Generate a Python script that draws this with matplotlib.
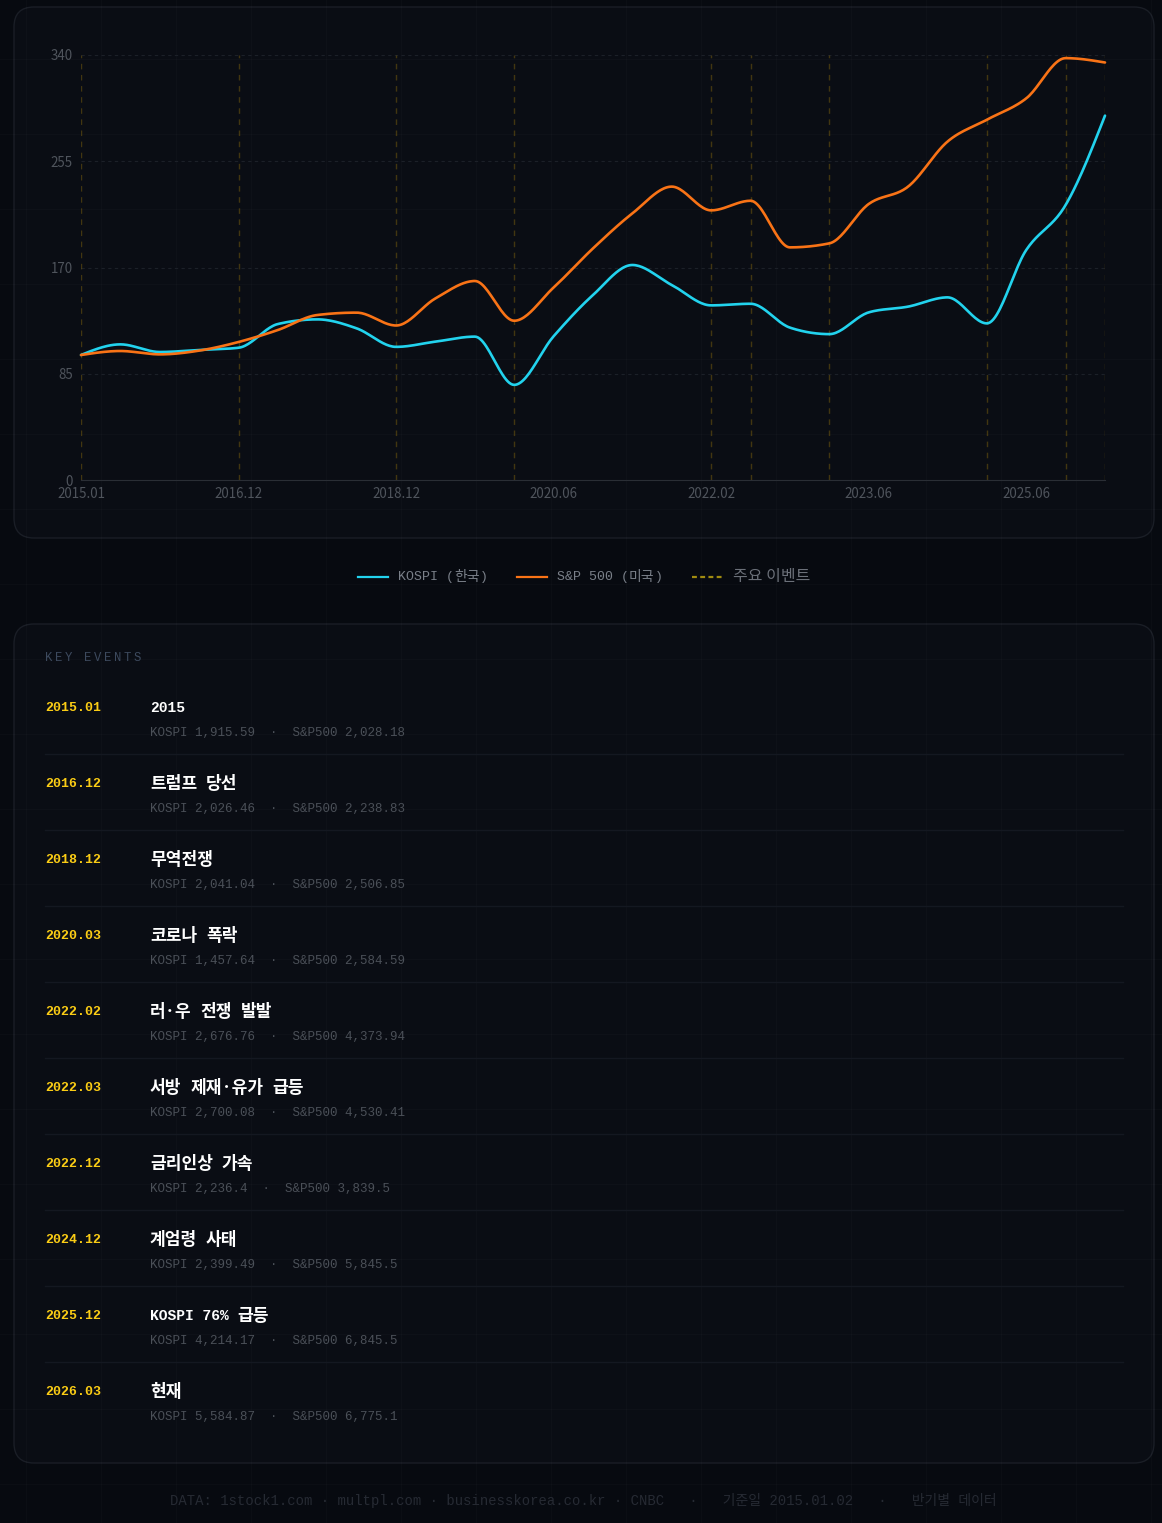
import matplotlib.pyplot as plt
import numpy as np
from matplotlib.patches import FancyBboxPatch

W, H = 1162, 1523

labels = ["2015.01", "2015.06", "2015.12", "2016.06", "2016.12", "2017.06", "2017.12",
          "2018.06", "2018.12", "2019.06", "2019.12", "2020.03", "2020.06", "2020.12",
          "2021.06", "2021.12", "2022.02", "2022.03", "2022.06", "2022.12", "2023.06",
          "2023.12", "2024.06", "2024.12", "2025.06", "2025.12", "2026.03"]
# index, 2015.01 = 100
kospi = [100, 108.5, 102.4, 104, 105.8, 124.8, 128.5, 121.3, 106.5, 110.7, 114.7, 76.1,
         115, 148, 172, 156, 139.7, 141.0, 121.9, 116.7, 134.1, 138.7, 146.1, 125.3,
         184, 220.0, 291.5]
sp500 = [100, 103.2, 100.5, 103.5, 110.4, 120, 132, 133.9, 123.6, 145.3, 159.2, 127.4,
         154, 185.3, 213.3, 234.7, 215.7, 223.4, 186.1, 189.3, 220.8, 234.7, 270.7, 288.2,
         305.3, 337.5, 334.0]
y_ticks = [0, 85, 170, 255, 340]

ev_dates = ["2015.01", "2016.12", "2018.12", "2020.03", "2022.02", "2022.03", "2022.12",
            "2024.12", "2025.12", "2026.03"]
ev_titles = ["2015", "트럼프 당선", "무역전쟁", "코로나 폭락", "러·우 전쟁 발발",
             "서방 제재·유가 급등", "금리인상 가속", "계엄령 사태", "KOSPI 76% 급등", "현재"]
ev_kospi = ["1,915.59", "2,026.46", "2,041.04", "1,457.64", "2,676.76", "2,700.08",
            "2,236.4", "2,399.49", "4,214.17", "5,584.87"]
ev_sp = ["2,028.18", "2,238.83", "2,506.85", "2,584.59", "4,373.94", "4,530.41",
         "3,839.5", "5,845.5", "6,845.5", "6,775.1"]

CYAN = "#22d3ee"
ORANGE = "#f97316"
GOLD = "#eab308"
MONO = ["Liberation Mono", "Noto Sans CJK KR"]
KR = ["Noto Sans CJK KR", "DejaVu Sans"]


def monotone(y, n=24):
    # monotone cubic (like d3 curveMonotoneX), x spacing = 1
    y = np.asarray(y, float)
    d = np.diff(y)
    m = np.zeros_like(y)
    for i in range(1, len(y) - 1):
        s0, s1 = d[i - 1], d[i]
        p = (s0 + s1) / 2
        m[i] = (np.sign(s0) + np.sign(s1)) * min(abs(s0), abs(s1), 0.5 * abs(p))
    m[0] = (3 * d[0] - m[1]) / 2
    m[-1] = (3 * d[-1] - m[-2]) / 2
    xs, ys = [], []
    t = np.linspace(0, 1, n, endpoint=False)
    for i in range(len(y) - 1):
        h00 = 2 * t**3 - 3 * t**2 + 1
        h10 = t**3 - 2 * t**2 + t
        h01 = -2 * t**3 + 3 * t**2
        h11 = t**3 - t**2
        xs.append(i + t)
        ys.append(h00 * y[i] + h10 * m[i] + h01 * y[i + 1] + h11 * m[i + 1])
    xs.append([len(y) - 1])
    ys.append([y[-1]])
    return np.concatenate(xs), np.concatenate(ys)


fig = plt.figure(figsize=(W / 100, H / 100), dpi=100, facecolor="#070a10")
renderer = fig.canvas.get_renderer()
bg = fig.add_axes([0, 0, 1, 1])
bg.set_xlim(0, W)
bg.set_ylim(H, 0)
bg.axis("off")


def runs(x, y, s, latin_size, kr_size, **kw):
    # latin chars in mono, hangul in the korean font at its own size
    parts = []
    for ch in s:
        kind = ord(ch) < 128
        if parts and parts[-1][0] == kind:
            parts[-1][1] += ch
        else:
            parts.append([kind, ch])
    for kind, txt in parts:
        t = bg.text(x, y, txt, family=MONO if kind else KR,
                    fontsize=latin_size if kind else kr_size, va="center", zorder=3, **kw)
        x += t.get_window_extent(renderer).width


for box in [(14, 7, 1140, 531), (14, 624, 1140, 839)]:
    bg.add_patch(FancyBboxPatch(box[:2], box[2], box[3],
                                boxstyle="round,pad=0,rounding_size=20",
                                fc="#0a0d14", ec="#1a1e26", lw=1, zorder=1))

for gx in np.arange(25.7, W, 75):
    bg.axvline(gx, color="white", alpha=0.018, lw=1, zorder=2)
for gy in np.arange(59, H, 75):
    bg.axhline(gy, color="white", alpha=0.018, lw=1, zorder=2)

# chart
ax = fig.add_axes([81 / W, 1 - 480 / H, 1024 / W, 425 / H])
ax.patch.set_alpha(0)
ax.set_xlim(0, len(labels) - 1)
ax.set_ylim(0, 340)
for s in ["top", "right", "left"]:
    ax.spines[s].set_visible(False)
ax.spines["bottom"].set_color("#2a2e35")
ax.set_yticks(y_ticks)
ax.set_xticks(range(0, len(labels), 4))
ax.set_xticklabels(labels[::4])
ax.tick_params(length=0, colors="#4f545c", labelsize=9.6)
ax.tick_params(axis="y", pad=6)
ax.tick_params(axis="x", pad=5)
for lab in ax.get_xticklabels() + ax.get_yticklabels():
    lab.set_family(KR)
for yv in y_ticks[1:]:
    ax.axhline(yv, color="#1c2028", lw=0.8, ls=(0, (3, 3)), zorder=1)

for d in ev_dates:
    ax.axvline(labels.index(d), color=GOLD, alpha=0.25, lw=1, ls=(0, (4, 4)), zorder=2)

for vals, col in [(kospi, CYAN), (sp500, ORANGE)]:
    xs, ys = monotone(vals)
    ax.plot(xs, ys, color=col, lw=1.9, zorder=3, clip_on=False, solid_capstyle="round")

# legend
ly = 577
bg.plot([358, 388], [ly, ly], color=CYAN, lw=1.6, zorder=3)
runs(398, ly, "KOSPI (한국)", 9.5, 10, color="#7a8089")
bg.plot([517, 547], [ly, ly], color=ORANGE, lw=1.6, zorder=3)
runs(557, ly, "S&P 500 (미국)", 9.5, 10, color="#7a8089")
bg.plot([692, 722], [ly, ly], color="#a08b10", lw=1.6, ls=(0, (2.2, 1.5)), zorder=3)
bg.text(733, ly - 1, "주요 이벤트", family=KR, fontsize=11.5, color="#6b7079",
        va="center", zorder=3)

# key events
for i, ch in enumerate("KEY EVENTS"):
    bg.text(45 + i * 9.8, 658, ch, family=MONO, fontsize=8.8, color="#3d4a5e",
            va="center", zorder=3)

for i, (d, t, k, s) in enumerate(zip(ev_dates, ev_titles, ev_kospi, ev_sp)):
    y0 = 708 + i * 76
    bg.text(45, y0, d, family=MONO, fontsize=9.5, weight="bold", color="#facc15",
            va="center", zorder=3)
    runs(150, y0, t, 10.5, 12.3, weight="bold", color="white")
    bg.text(150, y0 + 25, f"KOSPI {k}  ·  S&P500 {s}", family=MONO, fontsize=9,
            color="#4b5058", va="center", zorder=3)
    if i < len(ev_dates) - 1:
        bg.plot([45, 1123], [y0 + 46, y0 + 46], color="#141821", lw=1, zorder=3)

bg.text(583, 1501, "DATA: 1stock1.com · multpl.com · businesskorea.co.kr · CNBC   ·   "
        "기준일 2015.01.02   ·   반기별 데이터", family=MONO, fontsize=10,
        color="#262a33", ha="center", va="center", zorder=3)

fig.savefig("out.png", dpi=100, facecolor=fig.get_facecolor())
